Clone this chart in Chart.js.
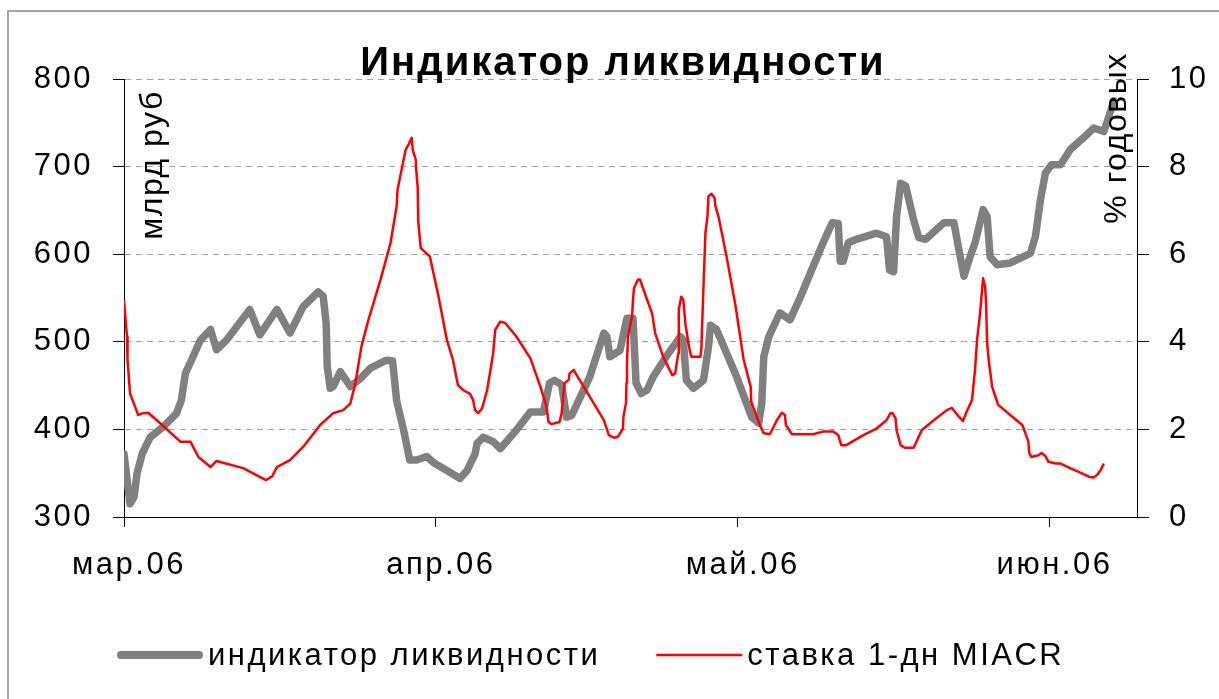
<!DOCTYPE html>
<html>
<head>
<meta charset="utf-8">
<script src="https://cdn.jsdelivr.net/npm/chart.js@4.4.0/dist/chart.umd.min.js"></script>
<style>
  html, body { margin: 0; padding: 0; background: #fff; }
</style>
</head>
<body>
<canvas id="chart" width="1219" height="699"></canvas>
<script>
// тексты
const chartTitle = 'Индикатор ликвидности';
const leftAxisTitle = 'млрд руб';
const rightAxisTitle = '% годовых';

// ось X: дни от 1 марта 2006
const monthTicks = [0, 31, 61, 92];
const monthLabels = ['мар.06', 'апр.06', 'май.06', 'июн.06'];

// индикатор ликвидности, млрд руб
const liqDays = [0, 0.6, 1.0, 1.3, 1.8, 2.6, 3.9, 5.2, 5.7, 6.1, 6.7, 7.6, 8.6, 9.2, 10.2, 12.5, 13.5, 15.2, 16.5, 17.8,
  19.3, 19.8, 20.1, 20.2, 20.5, 20.8, 21.5, 22.5, 23.5, 24.5, 26.1, 26.7, 27.1, 27.8, 28.4, 29.1, 30.1, 30.9, 32.1, 33.4,
  34.1, 34.9, 35.1, 35.7, 36.7, 37.4, 39.0, 40.4, 41.7, 42.3, 42.8, 43.5, 44.0, 44.5, 46.3, 47.7, 48.0, 48.3, 49.3, 50.0,
  50.6, 50.9, 51.4, 52.0, 52.6, 53.9, 55.3, 55.6, 55.9, 56.6, 57.6, 58.1, 58.3, 58.9, 60.9, 62.4, 63.1, 63.4, 63.6, 64.1,
  65.2, 66.2, 67.2, 68.5, 69.5, 70.4, 71.0, 71.2, 71.5, 72.0, 72.8, 74.8, 75.8, 76.1, 76.5, 76.8, 77.2, 77.7, 78.5, 79.0,
  79.7, 81.5, 82.5, 83.0, 83.5, 84.1, 84.6, 85.4, 85.8, 86.1, 86.8, 88.1, 90.1, 90.6, 91.1, 91.6, 92.2, 93.1, 94.1, 95.2,
  96.4, 97.4, 97.9, 98.4];
const liqValues = [372, 315, 323, 350, 372, 391, 403, 418, 433, 464, 479, 502, 514, 491, 502, 537, 508, 537, 510, 540,
  557, 552, 521, 472, 447, 449, 466, 449, 458, 470, 479, 478, 433, 399, 365, 365, 369, 361, 353, 344,
  353, 372, 384, 391, 386, 378, 399, 420, 420, 453, 456, 451, 414, 416, 460, 510, 506, 483, 490, 527,
  527, 453, 441, 445, 460, 483, 506, 502, 456, 447, 456, 494, 519, 514, 460, 414, 407, 430, 483, 506,
  533, 525, 550, 586, 613, 636, 635, 592, 592, 613, 617, 624, 620, 582, 580, 643, 681, 678, 639, 619,
  617, 636, 636, 605, 575, 597, 613, 651, 643, 597, 588, 590, 601, 620, 662, 693, 702, 702, 720, 731,
  744, 740, 757, 775];

// ставка 1-дн MIACR, % годовых
const rateDays = [0, 0.3, 0.35, 0.6, 1.1, 1.4, 1.9, 2.4, 3.6, 5.6, 6.6, 7.4, 8.6, 9.2, 11.9, 14.1, 14.7, 15.2, 16.5, 17.8,
  19.5, 20.8, 21.8, 22.5, 23.0, 23.6, 24.3, 25.5, 26.5, 27.1, 27.2, 28.0, 28.3, 28.6, 28.7, 29.0, 29.05, 29.2, 29.25, 29.5,
  30.4, 31.2, 32.1, 32.7, 33.2, 33.7, 34.4, 34.7, 34.9, 35.2, 35.6, 36.1, 36.7, 36.9, 37.4, 37.9, 39.0, 40.4, 41.4, 42.0,
  42.2, 42.5, 43.3, 43.5, 43.8, 44.2, 44.3, 44.7, 45.0, 46.3, 47.7, 48.2, 48.7, 49.1, 49.6, 49.65, 49.9, 49.95, 50.0, 50.1,
  50.5, 50.6, 50.7, 51.1, 51.3, 52.0, 52.5, 52.8, 53.6, 54.5, 54.8, 55.1, 55.15, 55.4, 55.6, 55.8, 56.1, 56.3, 56.4, 57.3,
  57.4, 57.5, 57.8, 58.0, 58.1, 58.4, 58.7, 58.8, 59.1, 59.9, 60.8, 61.6, 62.3, 62.35, 62.9, 63.2, 63.6, 64.2, 64.9, 65.4,
  65.7, 65.8, 66.4, 67.2, 68.5, 69.5, 70.5, 71.0, 71.3, 71.8, 73.5, 74.8, 75.8, 76.2, 76.4, 76.7, 76.8, 77.2, 77.6, 78.5,
  79.3, 80.5, 81.8, 82.3, 83.0, 83.4, 83.7, 84.3, 84.4, 84.6, 84.8, 85.1, 85.3, 85.4, 85.6, 85.7, 85.8, 86.0, 86.3, 86.9,
  88.1, 89.3, 89.8, 89.9, 90.0, 90.2, 90.9, 91.2, 91.6, 91.9, 92.6, 93.1, 94.1, 94.9, 95.9, 96.4, 96.8, 97.1, 97.4];
const rateValues = [4.96, 4.12, 3.59, 2.82, 2.52, 2.33, 2.37, 2.38, 2.14, 1.72, 1.72, 1.37, 1.14, 1.28, 1.11, 0.84, 0.92, 1.14, 1.30, 1.60,
  2.10, 2.37, 2.44, 2.59, 3.05, 3.89, 4.50, 5.42, 6.26, 7.09, 7.48, 8.39, 8.51, 8.66, 8.39, 8.16, 7.93, 7.51, 6.75, 6.14,
  5.95, 5.11, 4.04, 3.59, 3.01, 2.90, 2.81, 2.67, 2.44, 2.37, 2.48, 2.90, 3.74, 4.27, 4.46, 4.43, 4.12, 3.62, 2.97, 2.52,
  2.17, 2.12, 2.17, 2.37, 3.05, 3.13, 3.28, 3.36, 3.24, 2.75, 2.21, 1.87, 1.81, 1.83, 2.02, 2.29, 2.60, 3.06, 3.51, 4.12,
  4.58, 4.96, 5.23, 5.42, 5.42, 4.96, 4.65, 4.20, 3.66, 3.24, 3.28, 3.74, 4.73, 5.03, 4.96, 4.43, 3.97, 3.74, 3.66, 3.66,
  3.85, 4.58, 6.49, 6.86, 7.32, 7.38, 7.29, 7.09, 6.86, 5.95, 4.81, 3.59, 2.97, 2.63, 2.29, 2.10, 1.91, 1.89, 2.21, 2.38,
  2.33, 2.10, 1.89, 1.89, 1.89, 1.95, 1.95, 1.87, 1.64, 1.64, 1.87, 2.02, 2.21, 2.37, 2.37, 2.25, 1.98, 1.64, 1.58, 1.58,
  1.98, 2.21, 2.44, 2.49, 2.29, 2.19, 2.37, 2.67, 2.90, 3.36, 4.04, 4.65, 5.19, 5.45, 5.26, 4.88, 3.97, 3.51, 2.97, 2.56,
  2.33, 2.10, 1.79, 1.72, 1.45, 1.37, 1.41, 1.46, 1.39, 1.26, 1.22, 1.22, 1.11, 1.03, 0.92, 0.90, 0.98, 1.07, 1.22];

const FONT = '"Liberation Sans", Arial, sans-serif';

function toPoints(xs, ys) {
  return xs.map((x, i) => ({ x: x, y: ys[i] }));
}

function drawRotated(c, text, x, y) {
  c.save();
  c.translate(x, y);
  c.rotate(-Math.PI / 2);
  c.textAlign = 'center';
  c.textBaseline = 'middle';
  c.fillText(text, 0, 0);
  c.restore();
}

// рамка, заголовок, подписи осей и легенда
const decor = {
  id: 'decor',
  beforeDraw(chart) {
    const c = chart.ctx;
    c.save();
    c.fillStyle = '#fff';
    c.fillRect(0, 0, chart.width, chart.height);
    c.strokeStyle = '#a6a6a6';
    c.lineWidth = 2;
    c.strokeRect(8, 11, chart.width, chart.height);
    c.restore();
    c.letterSpacing = '2.5px';
  },
  afterDraw(chart) {
    const c = chart.ctx;
    c.save();
    c.fillStyle = '#000';
    c.letterSpacing = '2px';
    c.font = 'bold 40px ' + FONT;
    c.textAlign = 'center';
    c.textBaseline = 'alphabetic';
    c.fillText(chartTitle, 623, 75);

    c.font = '32px ' + FONT;
    c.letterSpacing = '1.5px';
    drawRotated(c, leftAxisTitle, 153, 165);
    drawRotated(c, rightAxisTitle, 1117, 138);

    // легенда
    c.font = '31px ' + FONT;
    c.letterSpacing = '2.5px';
    c.textAlign = 'left';
    c.textBaseline = 'middle';
    let x = 117;
    const y = 655;
    chart.data.datasets.forEach(ds => {
      c.save();
      c.strokeStyle = ds.borderColor;
      c.lineWidth = ds.legendWidth;
      c.lineCap = ds.borderCapStyle;
      c.beginPath();
      c.moveTo(x + (ds.legendWidth > 4 ? 4 : 0), y);
      c.lineTo(x + 86 - (ds.legendWidth > 4 ? 4 : 0), y);
      c.stroke();
      c.restore();
      c.fillText(ds.label, x + 91, y + 1);
      x += 91 + c.measureText(ds.label).width + 56;
    });
    c.restore();
  }
};

const ctx = document.getElementById('chart').getContext('2d');
new Chart(ctx, {
  type: 'line',
  data: {
    datasets: [
      {
        label: 'индикатор ликвидности',
        data: toPoints(liqDays, liqValues),
        yAxisID: 'y',
        borderColor: '#808080',
        borderWidth: 7.5,
        legendWidth: 8,
        borderJoinStyle: 'round',
        borderCapStyle: 'round',
        pointRadius: 0,
        tension: 0,
        order: 1
      },
      {
        label: 'ставка 1-дн MIACR',
        data: toPoints(rateDays, rateValues),
        yAxisID: 'y1',
        borderColor: '#ff0000',
        borderWidth: 2.5,
        legendWidth: 2.5,
        borderJoinStyle: 'round',
        borderCapStyle: 'butt',
        pointRadius: 0,
        tension: 0,
        order: 0
      }
    ]
  },
  options: {
    responsive: false,
    animation: false,
    layout: { padding: { top: 79, left: 0, right: 0, bottom: 0 } },
    plugins: {
      legend: { display: false },
      title: { display: false },
      tooltip: { enabled: false }
    },
    scales: {
      x: {
        type: 'linear',
        min: 0,
        max: 100.7,
        afterBuildTicks: s => { s.ticks = monthTicks.map(v => ({ value: v })); },
        afterFit: s => { s.height = 182; },
        ticks: {
          callback: (v, i) => monthLabels[i],
          font: { family: FONT, size: 31 },
          color: '#000',
          padding: 20,
          labelOffset: 5,
          maxRotation: 0,
          autoSkip: false
        },
        grid: { drawOnChartArea: false, tickLength: 10, tickColor: '#000' },
        border: { color: '#000', width: 1 }
      },
      y: {
        position: 'left',
        min: 300,
        max: 800,
        afterFit: s => { s.width = 124; },
        ticks: { stepSize: 100, font: { family: FONT, size: 31 }, color: '#000', padding: 20 },
        grid: { color: '#a0a0a0', lineWidth: 1, tickLength: 11, tickColor: '#000' },
        border: { color: '#000', width: 1, dash: [6, 5] }
      },
      y1: {
        position: 'right',
        min: 0,
        max: 10,
        afterFit: s => { s.width = 82; },
        ticks: { stepSize: 2, font: { family: FONT, size: 31 }, color: '#000', padding: 20 },
        grid: { drawOnChartArea: false, tickLength: 12, tickColor: '#000' },
        border: { color: '#000', width: 1 }
      }
    }
  },
  plugins: [decor]
});
</script>
</body>
</html>
